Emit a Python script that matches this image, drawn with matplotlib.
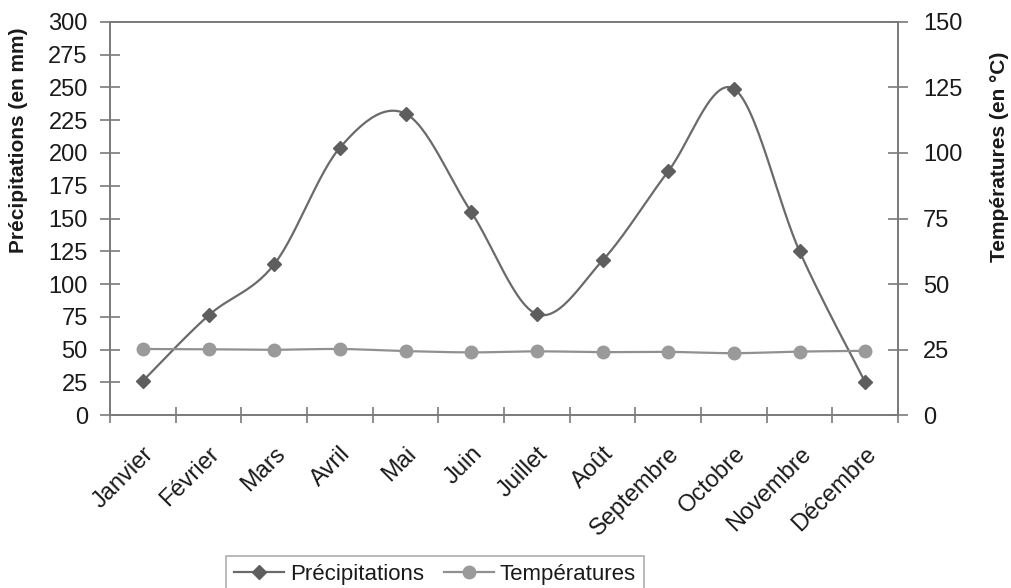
#!/usr/bin/env python
"""
Precipitations et temperatures mensuelles
"""

from matplotlib import pyplot as plt
from matplotlib.lines import Line2D
from matplotlib import transforms
import numpy as np

# Donnees
mois = ["Janvier", "Février", "Mars", "Avril", "Mai", "Juin", "Juillet",
        "Août", "Septembre", "Octobre", "Novembre", "Décembre"]
precipitations = [26, 76, 115, 204, 230, 155, 77, 118, 186, 249, 125, 25]
temperatures = [25.2, 25.1, 24.9, 25.2, 24.4, 23.9, 24.3, 24.0, 24.1, 23.6, 24.2, 24.5]

plt.rcParams['font.family'] = ['Liberation Sans', 'DejaVu Sans']


# Courbe lissee facon tableur (bezier type Catmull-Rom)
def lisser(y, n=30):
    y = np.asarray(y, dtype=float)
    x = np.arange(len(y), dtype=float)
    pts = np.column_stack([x, y])
    ext = np.vstack([pts[0], pts, pts[-1]])
    out = []
    for i in range(len(pts) - 1):
        p0, p3 = ext[i + 1], ext[i + 2]
        p1 = p0 + (ext[i + 2] - ext[i]) / 6.0
        p2 = p3 - (ext[i + 3] - ext[i + 1]) / 6.0
        t = np.linspace(0, 1, n)[:, None]
        seg = ((1 - t) ** 3) * p0 + 3 * ((1 - t) ** 2) * t * p1 + 3 * (1 - t) * t ** 2 * p2 + t ** 3 * p3
        out.append(seg if i == 0 else seg[1:])
    out = np.vstack(out)
    return out[:, 0], out[:, 1]


c_pre = '#6a6a6a'
c_tem = '#909090'
c_axe = '#7a7a7a'
c_txt = '#1a1a1a'

fig = plt.figure(figsize=(10.12, 5.88), dpi=100)
ax = fig.add_axes([0.1087, 0.2942, 0.7787, 0.6684])
ax2 = ax.twinx()

x = np.arange(len(mois))
xs, ys = lisser(precipitations)
ax.plot(xs, ys, color=c_pre, lw=1.6, zorder=3)
ax.plot(x, precipitations, ls='none', marker='D', ms=7, color='#5e5e5e', zorder=4)

xt, yt = lisser(temperatures)
ax2.plot(xt, yt, color=c_tem, lw=1.6, zorder=3)
ax2.plot(x, temperatures, ls='none', marker='o', ms=9, color='#9a9a9a', zorder=4)

ax.set_xlim(-0.5, len(mois) - 0.5)
ax.set_ylim(0, 300)
ax2.set_ylim(0, 150)
ax.set_yticks(np.arange(0, 301, 25))
ax2.set_yticks(np.arange(0, 151, 25))

ax.set_xticks(x)
ax.set_xticklabels(mois, rotation=45, ha='right', va='top', rotation_mode='anchor', fontsize=17, color=c_txt)
decal = transforms.ScaledTranslation(-0.06, 0, fig.dpi_scale_trans)
for lab in ax.get_xticklabels():
    lab.set_transform(lab.get_transform() + decal)
ax.set_xticks(np.arange(-0.5, len(mois), 1), minor=True)
ax.tick_params(axis='x', which='major', length=0, pad=20)
ax.tick_params(axis='x', which='minor', length=12, direction='inout', color=c_axe, width=1.2)
ax.tick_params(axis='y', length=14, direction='inout', color=c_axe, width=1.2, labelsize=17, labelcolor=c_txt, pad=9)
ax2.tick_params(axis='y', length=14, direction='inout', color=c_axe, width=1.2, labelsize=17, labelcolor=c_txt, pad=11)

for a in (ax, ax2):
    for s in a.spines.values():
        s.set_color(c_axe)
        s.set_linewidth(1.2)

ax.set_ylabel('Précipitations (en mm)', fontsize=15, fontweight='bold', color=c_txt)
ax2.set_ylabel('Températures (en °C)', fontsize=15, fontweight='bold', color=c_txt)
ax.yaxis.set_label_coords(-0.104, 0.70)
ax2.yaxis.set_label_coords(1.117, 0.656)

handles = [Line2D([], [], color=c_pre, lw=1.6, marker='D', ms=7, mfc='#5e5e5e', mec='#5e5e5e'),
           Line2D([], [], color=c_tem, lw=1.6, marker='o', ms=9, mfc='#9a9a9a', mec='#9a9a9a')]
leg = fig.legend(handles, ['Précipitations', 'Températures'], ncol=2, loc='upper left',
                 bbox_to_anchor=(226 / 1012, 1 - 556 / 588), borderaxespad=0, fontsize=16,
                 frameon=True, fancybox=False, handlelength=2.25, columnspacing=0.9,
                 handletextpad=0.27, borderpad=0.35)
leg.get_frame().set_edgecolor('#999999')
leg.get_frame().set_linewidth(1.2)
for t in leg.get_texts():
    t.set_color(c_txt)

plt.savefig('out.png', dpi=100)
